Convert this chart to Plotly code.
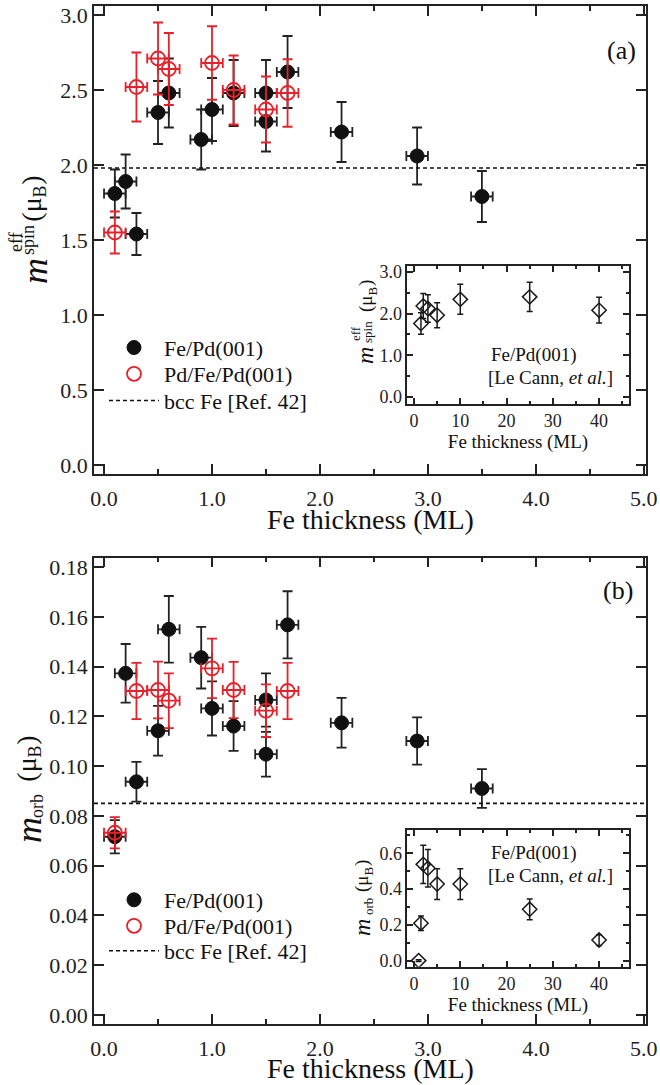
import plotly.graph_objects as go

# ---------------- data ----------------
# Fe/Pd(001): Fe thickness (ML)
fe_x = [0.1, 0.2, 0.3, 0.5, 0.6, 0.9, 1.0, 1.2, 1.5, 1.5, 1.7, 2.2, 2.9, 3.5]
fe_spin = [1.81, 1.89, 1.54, 2.35, 2.48, 2.17, 2.37, 2.48, 2.29, 2.48, 2.62, 2.22, 2.06, 1.79]
fe_spin_err = [0.16, 0.18, 0.14, 0.21, 0.23, 0.20, 0.21, 0.22, 0.20, 0.22, 0.24, 0.20, 0.19, 0.17]
fe_orb = [0.0716, 0.1373, 0.0937, 0.1142, 0.1550, 0.1436, 0.1232, 0.1161, 0.1266, 0.1048,
          0.1568, 0.1174, 0.1101, 0.0910]
fe_orb_err = [0.0067, 0.0118, 0.0080, 0.0100, 0.0134, 0.0124, 0.0109, 0.0100, 0.0107, 0.0090,
              0.0135, 0.0100, 0.0095, 0.0078]

# Pd/Fe/Pd(001)
pd_x = [0.1, 0.3, 0.5, 0.6, 1.0, 1.2, 1.5, 1.7]
pd_spin = [1.55, 2.52, 2.71, 2.64, 2.68, 2.50, 2.37, 2.48]
pd_spin_err = [0.14, 0.23, 0.24, 0.24, 0.245, 0.23, 0.22, 0.225]
pd_orb = [0.0732, 0.1302, 0.1306, 0.1263, 0.1393, 0.1306, 0.1223, 0.1302]
pd_orb_err = [0.0063, 0.0113, 0.0114, 0.0110, 0.0120, 0.0113, 0.0106, 0.0113]

# thickness uncertainty (ML)
thick_err = 0.1

# bcc Fe reference values
bcc_spin = 1.98
bcc_orb = 0.085

# Le Cann et al., Fe/Pd(001)
lc_spin_x = [1.5, 2, 3, 5, 10, 25, 40]
lc_spin = [1.76, 2.18, 2.12, 1.96, 2.34, 2.40, 2.08]
lc_spin_err = [0.26, 0.30, 0.33, 0.30, 0.36, 0.35, 0.31]
lc_orb_x = [1, 1.5, 2, 3, 5, 10, 25, 40]
lc_orb = [0.0, 0.209, 0.538, 0.516, 0.428, 0.428, 0.287, 0.115]
lc_orb_err = [0.005, 0.040, 0.107, 0.105, 0.086, 0.086, 0.058, 0.030]

# axis ranges
main_x_range = [-0.093, 5.02]
spin_range = [-0.06, 3.06]
orb_range = [-0.0037, 0.1838]
inset_x_range = [-1.45, 46.4]
inset_spin_range = [-0.17, 3.14]
inset_orb_range = [-0.034, 0.73]

x_title = "Fe thickness (ML)"

# ---------------- layout helpers ----------------
FONT = "Liberation Serif, Times New Roman, serif"
INK = "#222222"
RED = "#e8202a"
W, H = 660, 1085
ML, MR, MT, MB = 94, 14, 6, 61


def px_x(px):
    return (px - ML) / (W - ML - MR)


def px_y(py):
    return (H - MB - py) / (H - MT - MB)


def axis(domain, rng, dtick, fmt, size, ticklen, anchor, minor=None, title=None,
         standoff=None):
    d = dict(
        domain=domain, range=rng, dtick=dtick, tick0=0, tickformat=fmt,
        ticks="inside", ticklen=ticklen, tickwidth=1.5, tickcolor=INK,
        showline=True, linecolor=INK, linewidth=1.5, mirror="ticks",
        showgrid=False, zeroline=False, anchor=anchor, automargin=False,
        tickfont=dict(family=FONT, size=size, color=INK),
    )
    if standoff is not None:
        d["ticklabelstandoff"] = standoff
    if minor:
        d["minor"] = dict(dtick=minor, tick0=0, ticks="inside", ticklen=ticklen / 2,
                          tickwidth=1.5, tickcolor=INK, showgrid=False)
    if title:
        d["title"] = title
    return d


fig = go.Figure()


def add_panel(xa, ya, x, y, yerr, px2, y2, y2err, bcc, legends):
    fig.add_trace(go.Scatter(
        x=x, y=y, mode="markers", name="Fe/Pd(001)", xaxis=xa, yaxis=ya, legend=legends[0],
        marker=dict(symbol="circle", size=14, color="#111111",
                    line=dict(color="#111111", width=1)),
        error_y=dict(type="data", array=yerr, color=INK, thickness=1.8, width=5),
        error_x=dict(type="constant", value=thick_err, color=INK, thickness=1.8, width=5),
    ))
    fig.add_trace(go.Scatter(
        x=px2, y=y2, mode="markers", name="Pd/Fe/Pd(001)", xaxis=xa, yaxis=ya,
        legend=legends[1],
        marker=dict(symbol="circle-open", size=14, color=RED, line=dict(color=RED, width=1.8)),
        error_y=dict(type="data", array=y2err, color=RED, thickness=1.8, width=5),
        error_x=dict(type="constant", value=thick_err, color=RED, thickness=1.8, width=5),
    ))
    fig.add_trace(go.Scatter(
        x=main_x_range, y=[bcc, bcc], mode="lines", name="bcc Fe [Ref. 42]",
        xaxis=xa, yaxis=ya, legend=legends[2],
        line=dict(color="#111111", width=1.6, dash="4px,3px"),
    ))


add_panel("x", "y", fe_x, fe_spin, fe_spin_err, pd_x, pd_spin, pd_spin_err, bcc_spin,
          ["legend", "legend2", "legend3"])
add_panel("x2", "y2", fe_x, fe_orb, fe_orb_err, pd_x, pd_orb, pd_orb_err, bcc_orb,
          ["legend4", "legend5", "legend6"])


def add_inset(xa, ya, x, y, yerr):
    fig.add_trace(go.Scatter(
        x=x, y=y, mode="markers", showlegend=False, xaxis=xa, yaxis=ya,
        marker=dict(symbol="diamond-open", size=11, color="#1a1a1a",
                    line=dict(color="#1a1a1a", width=1.5)),
        error_y=dict(type="data", array=yerr, color="#1a1a1a", thickness=1.5, width=3),
    ))


add_inset("x3", "y3", lc_spin_x, lc_spin, lc_spin_err)
add_inset("x4", "y4", lc_orb_x, lc_orb, lc_orb_err)

# domains
dom_a = [px_y(474), 1.0]
dom_b = [0.0, px_y(557.7)]
dom_ix = [px_x(407.3), px_x(628.7)]
dom_ia = [px_y(404), px_y(266)]
dom_ib = [px_y(966.7), px_y(830)]

inset_title = dict(text=x_title, font=dict(family=FONT, size=19, color="#111"), standoff=3)

xa = axis([0, 1], main_x_range, 1, ".1f", 22, 10, "y", minor=0.5, standoff=4)
xb = axis([0, 1], main_x_range, 1, ".1f", 22, 10, "y2", minor=0.5, standoff=4)
ya = axis(dom_a, spin_range, 0.5, ".1f", 22, 10, "x")
yb = axis(dom_b, orb_range, 0.02, ".2f", 22, 10, "x2")

xia = axis(dom_ix, inset_x_range, 10, "d", 18, 6, "y3", minor=5, title=inset_title)
xib = axis(dom_ix, inset_x_range, 10, "d", 18, 6, "y4", minor=5, title=inset_title)
yia = axis(dom_ia, inset_spin_range, 1, ".1f", 18, 6, "x3", minor=0.5)
yib = axis(dom_ib, inset_orb_range, 0.2, ".1f", 18, 6, "x4", minor=0.1)


def legend_at(row_y):
    return dict(font=dict(family=FONT, size=22, color="#111"), bgcolor="rgba(0,0,0,0)",
                x=px_x(104), y=px_y(row_y), xanchor="left", yanchor="middle",
                itemwidth=50, borderwidth=0)


fig.update_layout(
    template="none",
    width=W, height=H,
    margin=dict(l=ML, r=MR, t=MT, b=MB, autoexpand=False),
    paper_bgcolor="white", plot_bgcolor="white",
    font=dict(family=FONT, size=20, color="#111"),
    xaxis=xa, yaxis=ya, xaxis2=xb, yaxis2=yb,
    xaxis3=xia, yaxis3=yia, xaxis4=xib, yaxis4=yib,
    legend=legend_at(347.7), legend2=legend_at(374), legend3=legend_at(400.7),
    legend4=legend_at(900), legend5=legend_at(926), legend6=legend_at(951),
)

annotations = []


def text(px, py, s, size, angle=0, style="normal"):
    annotations.append(dict(
        x=px_x(px), y=px_y(py), xref="paper", yref="paper", text=s, showarrow=False,
        textangle=angle, xanchor="center", yanchor="middle",
        font=dict(family=FONT, size=size, color="#111", style=style),
    ))


def unit_label(px, py_mid, size, sub_size):
    """Rotated '(μB)' with a lowered B, laid out bottom-to-top around py_mid."""
    w_open = 0.87 * size
    w_b = 0.667 * sub_size
    w_close = 0.333 * size
    start = py_mid + (w_open + w_b + w_close) / 2
    text(px, start - w_open / 2, "(μ", size, -90)
    text(px + 0.32 * size, start - w_open - w_b / 2, "B", sub_size, -90)
    text(px, start - w_open - w_b - w_close / 2, ")", size, -90)


# main x-axis titles
text(370, 519, x_title, 28)
text(370, 1068, x_title, 28)

# panel labels
text(621.7, 50, "(a)", 26)
text(618.3, 590, "(b)", 26)

# inset captions
for top in (355, 853):
    text(534, top, "Fe/Pd(001)", 19)
    text(550, top + 22, "[Le Cann, <i>et al.</i>]", 19)

# rotated y-axis titles built from pieces so the sub/superscripts stack
# main (a)
text(35, 271, "m", 36, -90, "italic")
text(16, 242, "eff", 18, -90)
text(28, 240, "spin", 18, -90)
unit_label(32, 199, 28, 18)
# main (b)
text(29, 830, "m", 36, -90, "italic")
text(37, 806, "orb", 18, -90)
unit_label(27, 759, 28, 18)
# inset (a)
text(365, 356, "m", 24, -90, "italic")
text(356, 334, "eff", 13, -90)
text(367, 332, "spin", 13, -90)
unit_label(366.5, 296, 19, 13)
# inset (b)
text(362, 928, "m", 24, -90, "italic")
text(368, 907, "orb", 13, -90)
unit_label(362.5, 876, 19, 13)

fig.update_layout(annotations=annotations)

fig.write_html("out.html")
